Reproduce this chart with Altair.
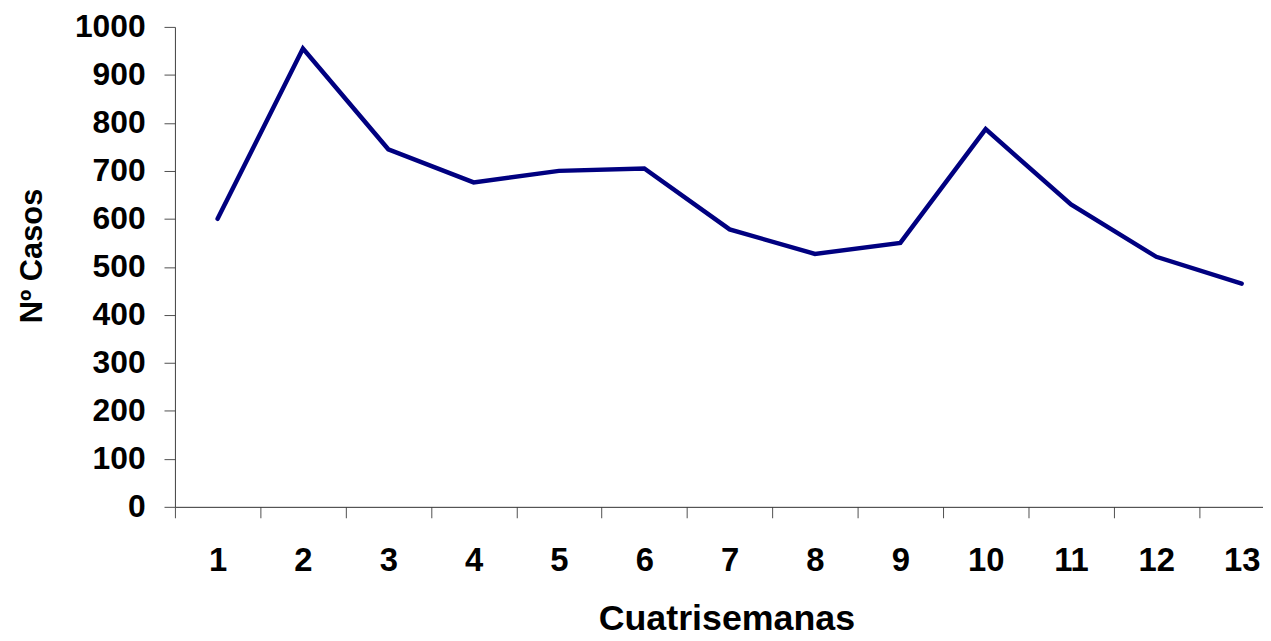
import altair as alt
import pandas as pd

# Data
cuatrisemanas = [1, 2, 3, 4, 5, 6, 7, 8, 9, 10, 11, 12, 13]
casos = [600, 955, 745, 676, 700, 705, 578, 527, 550, 787, 630, 521, 465]

y_ticks = [0, 100, 200, 300, 400, 500, 600, 700, 800, 900, 1000]
# category boundaries (ticks) and category centres (labels)
x_ticks = [0.5, 1, 1.5, 2, 2.5, 3, 3.5, 4, 4.5, 5, 5.5, 6, 6.5, 7, 7.5,
           8, 8.5, 9, 9.5, 10, 10.5, 11, 11.5, 12, 12.5, 13]

df = pd.DataFrame({"Cuatrisemana": cuatrisemanas, "Casos": casos})

FONT = "Liberation Sans"

chart = (
    alt.Chart(df)
    .mark_line(color="#000080", strokeWidth=4.5, strokeCap="round")
    .encode(
        x=alt.X(
            "Cuatrisemana:Q",
            scale=alt.Scale(domain=[0.5, 13.25], nice=False, zero=False),
            axis=alt.Axis(
                title="Cuatrisemanas",
                values=x_ticks,
                labelExpr="datum.value % 1 == 0 ? format(datum.value, 'd') : ''",
                tickOpacity={"condition": {"test": "datum.value % 1 == 0", "value": 0}, "value": 1},
                tickSize=11,
                tickColor="#505050",
                domainColor="#303030",
                grid=False,
                labelFont=FONT,
                labelFontWeight="bold",
                labelFontSize=33,
                labelColor="#000000",
                labelPadding=27,
                labelOverlap=False,
                labelFlush=False,
                titleFont=FONT,
                titleFontWeight="bold",
                titleFontSize=36,
                titleColor="#000000",
                titlePadding=24,
                titleX=555,
            ),
        ),
        y=alt.Y(
            "Casos:Q",
            scale=alt.Scale(domain=[0, 1000], nice=False),
            axis=alt.Axis(
                title="Nº Casos",
                values=y_ticks,
                format="d",
                tickSize=11,
                tickColor="#505050",
                domainColor="#404040",
                grid=False,
                labelFont=FONT,
                labelFontWeight="bold",
                labelFontSize=32,
                labelColor="#000000",
                labelPadding=19,
                titleFont=FONT,
                titleFontWeight="bold",
                titleFontSize=31,
                titleColor="#000000",
                titlePadding=26,
                titleY=230,
            ),
        ),
    )
    .properties(
        width=1095,
        height=483,
        padding={"left": 168, "top": 17, "right": 0, "bottom": 133},
        autosize=alt.AutoSizeParams(type="none"),
        background="white",
    )
    .configure_view(stroke=None)
)

chart.save("out.html", embed_options={"renderer": "svg", "actions": False})
